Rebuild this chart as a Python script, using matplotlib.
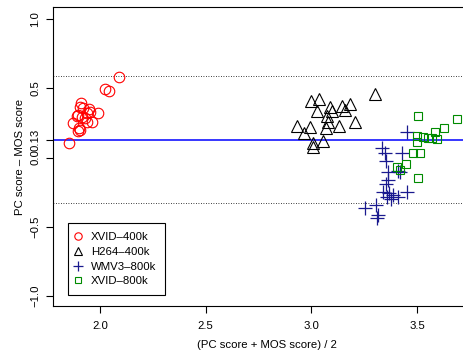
import matplotlib
matplotlib.use("Agg")
import matplotlib.pyplot as plt
import numpy as np

plt.rcParams['font.family'] = ['Liberation Sans', 'DejaVu Sans']

# Bland-Altman style data: mean of the two scores vs. their difference
xvid400_mean = [2.09, 2.024, 2.043, 1.91, 1.905, 1.92, 1.948, 1.938, 1.896, 1.99,
                1.915, 1.953, 1.929, 1.891, 1.962, 1.938, 1.872, 1.90, 1.896, 1.905, 1.853]
xvid400_diff = [0.58, 0.495, 0.48, 0.394, 0.365, 0.357, 0.35, 0.32, 0.307, 0.32,
                0.29, 0.33, 0.285, 0.30, 0.256, 0.256, 0.25, 0.213, 0.19, 0.20, 0.105]

h264_mean = [3.0, 3.036, 3.027, 3.089, 3.098, 3.145, 3.183, 3.159, 3.074, 3.079,
             3.131, 3.207, 3.301, 2.932, 2.994, 2.965, 3.07, 3.055, 3.008, 3.008]
h264_diff = [0.408, 0.422, 0.336, 0.365, 0.336, 0.372, 0.386, 0.343, 0.30, 0.256,
             0.227, 0.256, 0.458, 0.227, 0.22, 0.177, 0.213, 0.12, 0.105, 0.076]

wmv3_mean = [3.453, 3.335, 3.349, 3.354, 3.429, 3.42, 3.41, 3.363, 3.363, 3.354,
             3.339, 3.368, 3.358, 3.387, 3.41, 3.453, 3.377, 3.306, 3.254, 3.316, 3.311]
wmv3_diff = [0.184, 0.069, 0.032, -0.025, 0.032, -0.105, -0.097, -0.105, -0.162, -0.19,
             -0.25, -0.256, -0.285, -0.27, -0.285, -0.25, -0.30, -0.343, -0.365, -0.415, -0.437]

xvid800_mean = [3.505, 3.69, 3.628, 3.585, 3.50, 3.529, 3.552, 3.571, 3.595, 3.50,
                3.481, 3.514, 3.448, 3.406, 3.42, 3.505]
xvid800_diff = [0.30, 0.278, 0.213, 0.184, 0.155, 0.148, 0.141, 0.141, 0.134, 0.112,
                0.032, 0.032, -0.047, -0.069, -0.09, -0.148]

mean_diff = 0.13
upper_limit = 0.59
lower_limit = -0.33

legend_labels = ["XVID\u2013400k", "H264\u2013400k", "WMV3\u2013800k", "XVID\u2013800k"]

fs = 8.2

fig = plt.figure(figsize=(4.64, 3.5), dpi=100)
# right edge of the box runs past the figure edge
ax = fig.add_axes([53 / 464, 44 / 350, 427 / 464, 299 / 350])

ax.axhline(mean_diff, color="#0000ff", lw=1.1, zorder=1)
ax.axhline(upper_limit, color="black", lw=0.6, ls=(0, (1, 2)), zorder=1)
ax.axhline(lower_limit, color="black", lw=0.6, ls=(0, (1, 2)), zorder=1)

ax.plot(xvid400_mean, xvid400_diff, ls="none", marker="o", ms=7.6, mfc="none",
        mec="red", mew=0.8, label=legend_labels[0])
ax.plot(h264_mean, h264_diff, ls="none", marker="^", ms=8.5, mfc="none",
        mec="black", mew=0.8, label=legend_labels[1])
ax.plot(wmv3_mean, wmv3_diff, ls="none", marker="+", ms=9.5, color="#1a1a8f",
        mew=0.9, label=legend_labels[2])
ax.plot(xvid800_mean, xvid800_diff, ls="none", marker="s", ms=6, mfc="none",
        mec="#008b00", mew=0.8, label=legend_labels[3])

ax.set_xlim(1.778, 3.798)
ax.set_ylim(-1.072, 1.087)

ax.set_xticks([2.0, 2.5, 3.0, 3.5])
ax.set_xticklabels(["2.0", "2.5", "3.0", "3.5"])
ax.set_yticks([-1.0, -0.5, 0.0, 0.13, 0.5, 1.0])
ax.set_yticklabels(["\u22121.0", "\u22120.5", "0.0", "0.13", "0.5", "1.0"],
                   rotation=90, va="center")

ax.tick_params(direction="out", length=5, width=0.8, labelsize=fs)
ax.tick_params(axis="x", pad=6)
ax.tick_params(axis="y", pad=4)
for side in ["left", "bottom", "top", "right"]:
    ax.spines[side].set_linewidth(0.8)

ax.set_xlabel("(PC score + MOS score) / 2", fontsize=fs, labelpad=6)
ax.set_ylabel("PC score \u2013 MOS score", fontsize=fs, labelpad=4)

leg = ax.legend(loc="upper left", bbox_to_anchor=(0.035, 0.278), borderaxespad=0,
                fontsize=fs, fancybox=False, edgecolor="black", framealpha=1,
                markerscale=0.7, handlelength=0.2, handletextpad=1.0,
                labelspacing=0.42, borderpad=0.8)
leg.get_frame().set_linewidth(0.8)

fig.savefig("out.png", dpi=100)
